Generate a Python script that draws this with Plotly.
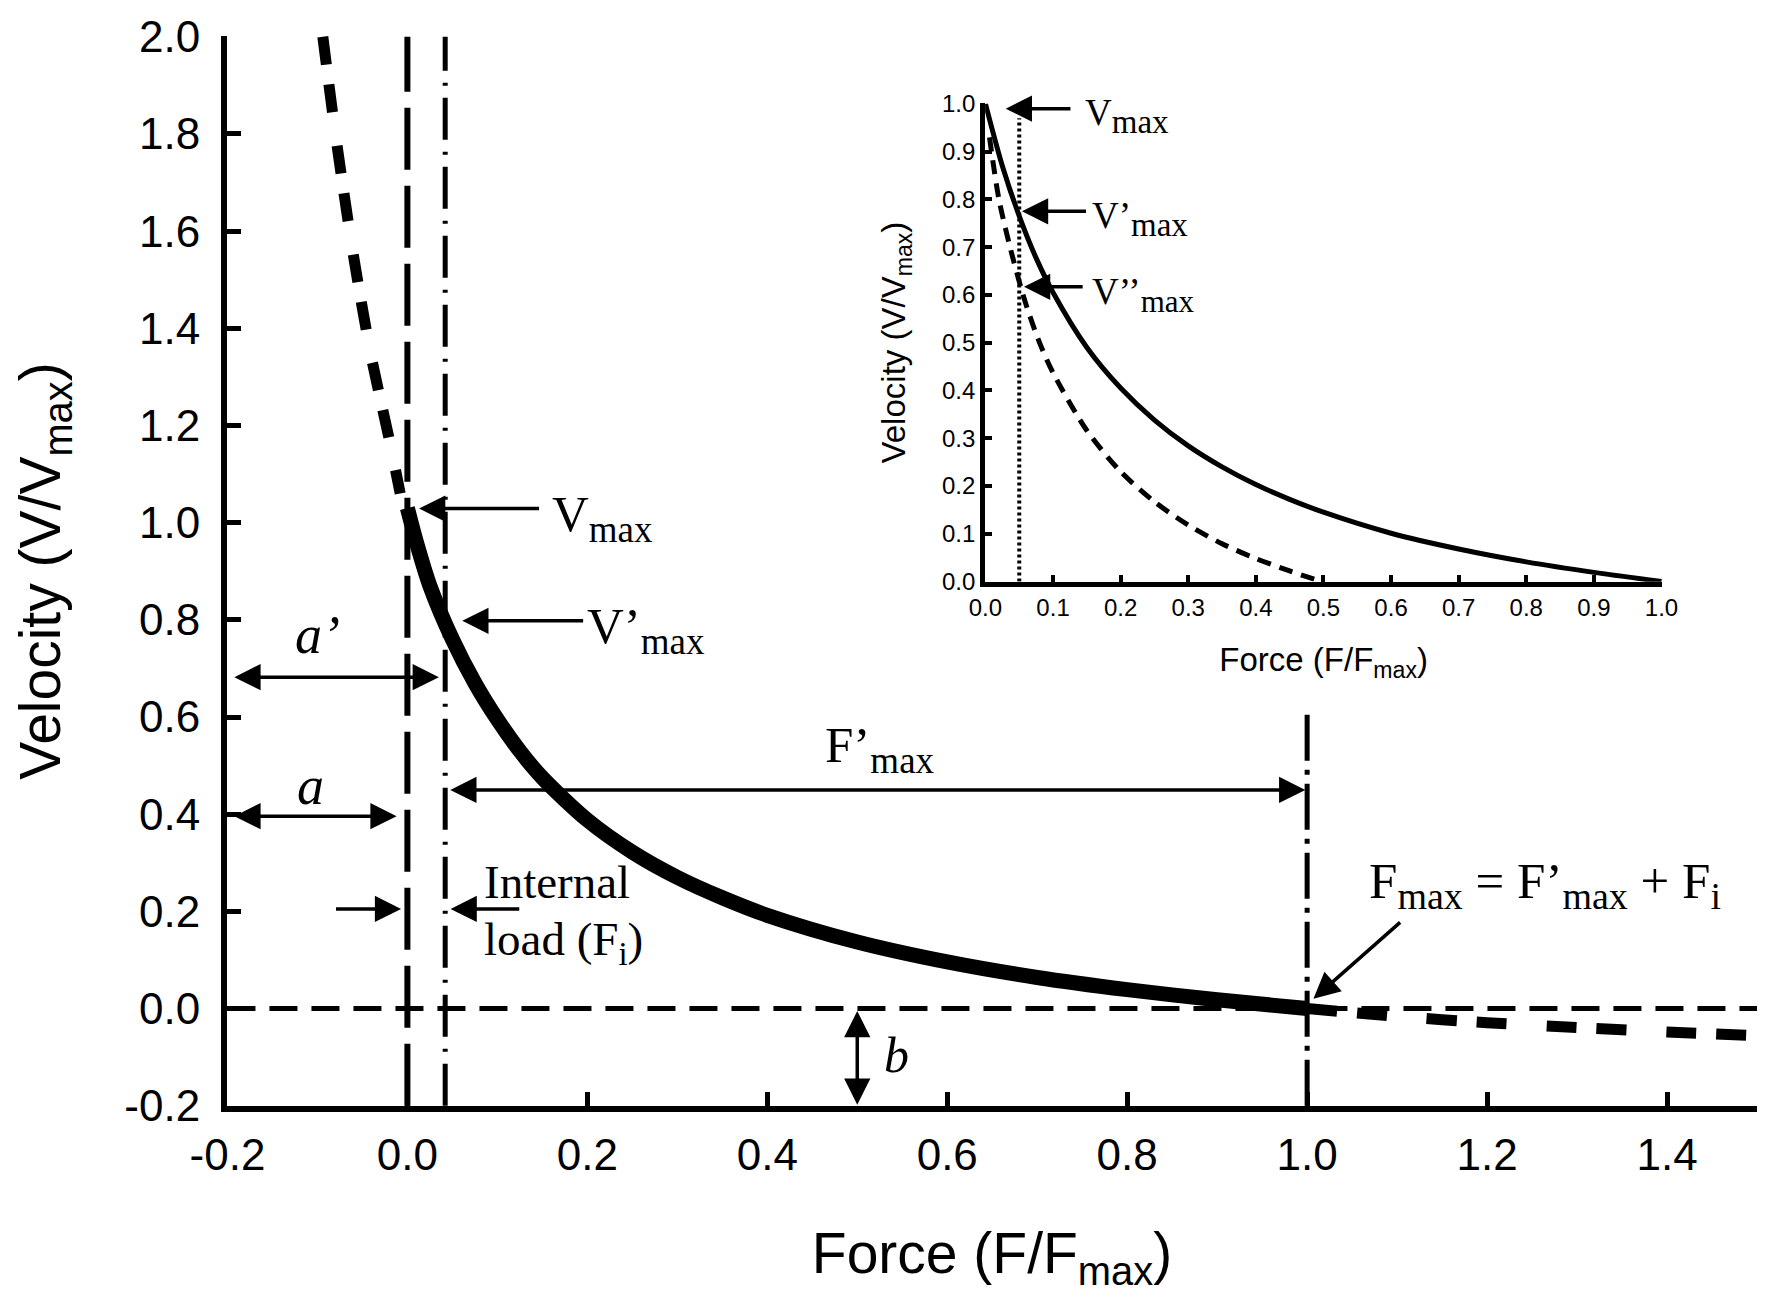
import plotly.graph_objects as go

# ---- main chart data ----
force_main = [0.0, 0.01, 0.025, 0.05, 0.075, 0.1, 0.125, 0.15, 0.2, 0.25, 0.3,
              0.35, 0.4, 0.5, 0.6, 0.7, 0.8, 0.9, 1.0]
vel_main = [1.03, 0.96, 0.87, 0.76, 0.67, 0.595, 0.53, 0.475, 0.388, 0.322,
            0.27, 0.228, 0.192, 0.137, 0.096, 0.064, 0.039, 0.018, 0.0]

force_left = [-0.094, -0.08, -0.06, -0.04, -0.02, -0.008]
vel_left = [2.0, 1.8, 1.55, 1.34, 1.17, 1.06]

force_right = [1.0, 1.1, 1.2, 1.3, 1.4, 1.5]
vel_right = [0.0, -0.016, -0.029, -0.039, -0.048, -0.056]

zero_x = [-0.2, 1.5]
zero_y = [0.0, 0.0]

# vertical reference lines: x position, y bottom, y top
vline_a = [0.0, -0.2, 2.0]
vline_a2 = [0.042, -0.2, 2.0]
vline_f = [1.0, -0.2, 0.62]

x_ticks = [-0.2, 0.0, 0.2, 0.4, 0.6, 0.8, 1.0, 1.2, 1.4]
x_ticktext = ["-0.2", "0.0", "0.2", "0.4", "0.6", "0.8", "1.0", "1.2", "1.4"]
y_ticks = [-0.2, 0.0, 0.2, 0.4, 0.6, 0.8, 1.0, 1.2, 1.4, 1.6, 1.8, 2.0]
y_ticktext = ["-0.2", "0.0", "0.2", "0.4", "0.6", "0.8", "1.0", "1.2", "1.4",
              "1.6", "1.8", "2.0"]

# ---- inset data ----
force_in = [0.0, 0.025, 0.05, 0.075, 0.1, 0.15, 0.2, 0.25, 0.3, 0.35, 0.4,
            0.45, 0.5, 0.6, 0.7, 0.8, 0.9, 1.0]
vel_in = [1.0, 0.87, 0.765, 0.677, 0.605, 0.49, 0.405, 0.338, 0.284, 0.24,
          0.203, 0.172, 0.145, 0.101, 0.068, 0.041, 0.019, 0.0]
force_in2 = [0.006, 0.02, 0.04, 0.06, 0.08, 0.1, 0.15, 0.2, 0.25, 0.3, 0.35,
             0.4, 0.45, 0.49]
vel_in2 = [0.93, 0.8, 0.68, 0.58, 0.5, 0.437, 0.316, 0.23, 0.167, 0.118, 0.079,
           0.048, 0.022, 0.003]
dot_x = [0.05, 0.05]
dot_y = [0.0, 0.97]
in_ticks = [0.0, 0.1, 0.2, 0.3, 0.4, 0.5, 0.6, 0.7, 0.8, 0.9, 1.0]
in_ticktext = ["0.0", "0.1", "0.2", "0.3", "0.4", "0.5", "0.6", "0.7", "0.8",
               "0.9", "1.0"]

SANS = "Liberation Sans, Arial, sans-serif"
SERIF = "Liberation Serif, Times New Roman, serif"

fig = go.Figure()

def line(x, y, width, dash="solid", xa="x", ya="y"):
    fig.add_trace(go.Scatter(x=x, y=y, mode="lines", xaxis=xa, yaxis=ya,
                             line=dict(color="black", width=width, dash=dash,
                                       shape="spline", smoothing=0.8),
                             showlegend=False, hoverinfo="skip"))

line(zero_x, zero_y, 5, "28px,14px")
line([vline_a[0]] * 2, vline_a[1:], 6, "62px,16px")
line([vline_a2[0]] * 2, vline_a2[1:], 5, "42px,12px,3px,12px")
line([vline_f[0]] * 2, vline_f[1:], 5, "46px,9px,5px,9px")
line(force_left, vel_left, 11, "28px,20px,28px,34px")
line(force_right, vel_right, 11, "30px,20px,30px,40px")
line(force_main, vel_main, 15)

# inset
line(force_in, vel_in, 5, xa="x2", ya="y2")
line(force_in2, vel_in2, 5, "14px,9px", xa="x2", ya="y2")
line(dot_x, dot_y, 4, "3px,3px", xa="x2", ya="y2")

ann = []

def arrow(x, y, ax, ay, both=False, xr="x", yr="y"):
    ann.append(dict(x=x, y=y, ax=ax, ay=ay, xref=xr, yref=yr, axref=xr, ayref=yr,
                    text="", showarrow=True, arrowhead=2, arrowsize=1.5,
                    arrowwidth=3.5, arrowcolor="black",
                    startarrowhead=2, startarrowsize=1.5,
                    arrowside="end+start" if both else "end"))

def label(x, y, text, size=51, italic=False, xr="x", yr="y", anchor="left"):
    ann.append(dict(x=x, y=y, xref=xr, yref=yr, text=text, showarrow=False,
                    xanchor=anchor, yanchor="middle",
                    font=dict(family=SERIF, size=size, color="black",
                              style="italic" if italic else "normal")))

def sub(t, px):
    return f"<sub><span style='font-size:{px}px'>{t}</span></sub>"

# main annotations
arrow(0.013, 1.029, 0.148, 1.029)
label(0.158, 1.01, "V" + sub("max", 37))
arrow(0.061, 0.798, 0.197, 0.798)
label(0.197, 0.78, "V’" + sub("max", 37))
arrow(0.035, 0.682, -0.194, 0.682, both=True)
label(-0.1, 0.768, "a’", size=54, italic=True, anchor="center")
arrow(-0.012, 0.396, -0.194, 0.396, both=True)
label(-0.108, 0.458, "a", size=54, italic=True, anchor="center")
arrow(0.998, 0.45, 0.046, 0.45, both=True)
label(0.525, 0.535, "F’" + sub("max", 37), anchor="center")
arrow(-0.007, 0.205, -0.081, 0.205)
arrow(0.048, 0.205, 0.126, 0.205)
label(0.083, 0.26, "Internal", size=47)
label(0.083, 0.135, "load (F<sub>i</sub>)", size=47)
arrow(0.5, -0.198, 0.5, -0.002, both=True)
label(0.528, -0.095, "b", size=50, italic=True)
arrow(1.007, 0.02, 1.105, 0.18)
label(1.066, 0.255, "F" + sub("max", 38) + " = F’" + sub("max", 38)
      + " + F" + sub("i", 38), size=51)

# inset annotations
arrow(0.03, 0.99, 0.128, 0.99, xr="x2", yr="y2")
label(0.145, 0.975, "V" + sub("max", 33), size=37, xr="x2", yr="y2")
arrow(0.054, 0.775, 0.151, 0.775, xr="x2", yr="y2")
label(0.155, 0.76, "V’" + sub("max", 33), size=37, xr="x2", yr="y2")
arrow(0.057, 0.617, 0.146, 0.617, xr="x2", yr="y2")
label(0.155, 0.6, "V’’" + sub("max", 31), size=37, xr="x2", yr="y2")

main_axis = dict(showgrid=False, zeroline=False, showline=True, linecolor="black",
                 linewidth=6, ticks="inside", ticklen=14, tickwidth=5,
                 tickcolor="black", automargin=False, ticklabeloverflow="allow",
                 tickfont=dict(family=SANS, size=44, color="black"))
inset_axis = dict(showgrid=False, zeroline=False, showline=True, linecolor="black",
                  linewidth=5, ticks="inside", ticklen=7, tickwidth=4,
                  tickcolor="black", automargin=False, ticklabeloverflow="allow",
                  tickfont=dict(family=SANS, size=24, color="black"))

fig.update_layout(
    width=1772, height=1297,
    margin=dict(l=219, r=23, t=28, b=199),
    paper_bgcolor="white", plot_bgcolor="white",
    annotations=ann,
    xaxis=dict(main_axis, range=[-0.2005, 1.5], tickvals=x_ticks,
               ticktext=x_ticktext, ticklabelstandoff=5,
               title=dict(text="Force (F/F<sub>max</sub>)", standoff=57,
                          font=dict(family=SANS, size=57, color="black"))),
    yaxis=dict(main_axis, range=[-0.2005, 2.0015], tickvals=y_ticks,
               ticktext=y_ticktext, ticklabelstandoff=12,
               title=dict(text="Velocity (V/V<sub>max</sub>)", standoff=56,
                          font=dict(family=SANS, size=57, color="black"))),
    xaxis2=dict(inset_axis, domain=[0.4955, 0.938], anchor="y2",
                range=[-0.0005, 1.001], tickvals=in_ticks, ticktext=in_ticktext,
                title=dict(text="Force (F/F<sub>max</sub>)", standoff=30,
                           font=dict(family=SANS, size=33, color="black"))),
    yaxis2=dict(inset_axis, domain=[0.49, 0.937], anchor="x2",
                range=[-0.0005, 1.001], tickvals=in_ticks, ticktext=in_ticktext,
                title=dict(text="Velocity (V/V<sub>max</sub>)", standoff=28,
                           font=dict(family=SANS, size=33, color="black"))),
)

fig.write_html("out.html")
